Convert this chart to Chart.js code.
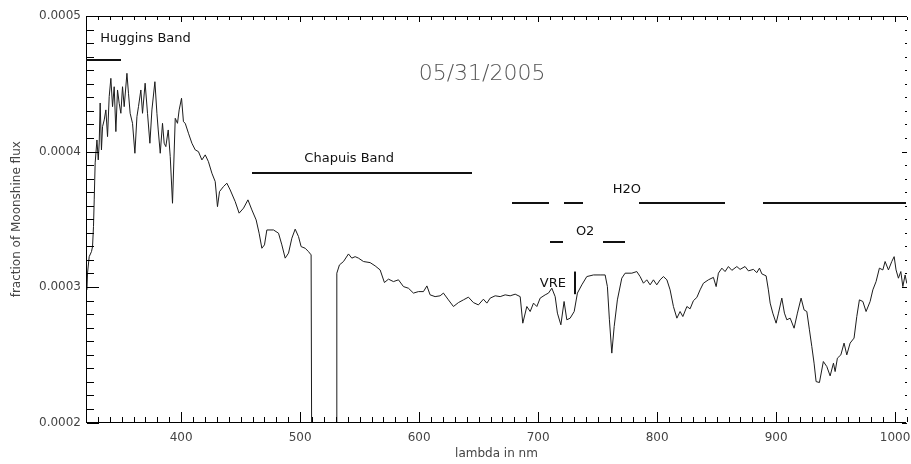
<!DOCTYPE html>
<html>
<head>
<meta charset="utf-8">
<script src="https://cdn.jsdelivr.net/npm/chart.js@4.4.0/dist/chart.umd.min.js"></script>
<style>
  html, body { margin: 0; padding: 0; background: #fff; overflow: hidden; }
  canvas { display: block; }
</style>
</head>
<body>
<canvas id="chart" width="911" height="464"></canvas>
<script>
// spectrum, wavelength in nm, flux in units of 1e-4
const wavelength = [
  320.8, 321.3, 322.7, 324.6, 325.5, 326.3, 326.9, 327.7, 329.2, 330.3,
  331.1, 331.9, 333.0, 333.9, 335.3, 336.7, 338.1, 339.5, 340.9, 342.3,
  343.7, 345.1, 346.5, 347.9, 349.3, 350.7, 352.1, 354.4, 355.7, 357.1,
  359.1, 361.1, 362.8, 364.1, 366.1, 367.5, 369.7, 371.7, 373.7, 375.4,
  377.9, 379.6, 380.7, 382.4, 384.3, 385.7, 387.1, 389.1, 390.8, 392.7,
  395.0, 396.9, 398.3, 400.3, 401.9, 403.4, 406.1, 409.0, 411.8, 414.5,
  417.4, 420.2, 422.9, 425.8, 428.6, 430.5, 432.2, 435.5, 438.4, 441.2,
  445.4, 448.7, 452.4, 456.1, 459.4, 463.0, 465.5, 467.8, 470.0, 472.0,
  477.6, 481.8, 484.6, 487.4, 490.2, 493.0, 495.8, 498.6, 500.8, 504.2,
  507.0, 509.2, 510.1, 530.7, 530.8,
  533.0, 536.4, 540.6, 543.4, 546.2, 549.0, 553.2, 558.8, 563.0, 567.2,
  570.8, 574.2, 578.4, 582.6, 586.8, 591.0, 595.2, 599.4, 603.6, 606.5,
  609.2, 613.4, 617.6, 620.4, 624.6, 628.8, 633.0, 637.2, 641.4, 645.6,
  649.8, 654.0, 656.9, 659.7, 663.9, 668.1, 672.3, 676.5, 680.7, 684.9,
  687.1, 690.5, 693.3, 696.1, 698.9, 701.7, 705.9, 708.7, 711.5, 714.3,
  716.2, 719.1, 721.8, 724.1, 726.9, 730.3, 733.0, 736.7, 740.9, 746.5,
  752.1, 756.3, 758.2, 759.9, 761.9, 763.9, 766.6, 770.3, 773.1, 778.7,
  782.9, 785.7, 788.5, 791.3, 794.1, 796.9, 799.7, 802.5, 805.3, 808.2,
  810.9, 813.7, 816.6, 819.3, 821.6, 825.0, 827.7, 830.5, 833.4, 836.1,
  838.9, 843.1, 847.3, 849.6, 851.5, 854.4, 857.1, 859.9, 862.8, 867.0,
  869.7, 873.9, 876.7, 880.9, 883.8, 886.0, 888.0, 891.6, 893.5, 895.0,
  897.2, 900.0, 902.0, 904.8, 907.0, 909.0, 911.8, 915.1, 917.9, 921.0,
  923.5, 925.8, 928.0, 930.0, 931.9, 933.6, 936.4, 939.7, 942.6, 945.4,
  948.2, 949.6, 951.5, 954.4, 957.1, 959.4, 962.2, 965.5, 967.8, 970.0,
  972.9, 975.6, 979.0, 981.3, 984.0, 986.8, 989.7, 991.6, 994.4, 997.2,
  999.2, 1000.8, 1002.8, 1004.8, 1006.5, 1008.4, 1009.8, 1012.0
];
const flux = [
  2.979, 3.104, 3.224, 3.261, 3.298, 3.446, 3.643, 3.916, 4.085, 3.938,
  4.063, 4.358, 4.012, 4.183, 4.233, 4.307, 4.110, 4.405, 4.540, 4.331,
  4.478, 4.147, 4.454, 4.356, 4.282, 4.478, 4.331, 4.577, 4.430, 4.282,
  4.208, 3.987, 4.257, 4.331, 4.454, 4.282, 4.504, 4.282, 4.061, 4.307,
  4.515, 4.282, 4.159, 3.987, 4.208, 4.061, 4.036, 4.159, 3.962, 3.618,
  4.245, 4.208, 4.307, 4.393, 4.220, 4.208, 4.135, 4.061, 4.012, 3.999,
  3.938, 3.975, 3.925, 3.840, 3.778, 3.593, 3.704, 3.741, 3.766, 3.716,
  3.630, 3.545, 3.582, 3.643, 3.569, 3.495, 3.397, 3.286, 3.311, 3.421,
  3.421, 3.397, 3.311, 3.213, 3.250, 3.360, 3.427, 3.372, 3.298, 3.286,
  3.261, 3.237, 0.5, 0.5, 3.102,
  3.163, 3.188, 3.244, 3.213, 3.224, 3.213, 3.188, 3.180, 3.156, 3.126,
  3.033, 3.058, 3.040, 3.053, 3.003, 2.991, 2.955, 2.966, 2.966, 3.008,
  2.942, 2.929, 2.935, 2.955, 2.905, 2.856, 2.885, 2.905, 2.925, 2.885,
  2.868, 2.910, 2.881, 2.918, 2.935, 2.929, 2.942, 2.935, 2.947, 2.929,
  2.733, 2.856, 2.819, 2.881, 2.856, 2.918, 2.942, 2.955, 2.991, 2.929,
  2.807, 2.721, 2.893, 2.758, 2.770, 2.819, 2.955, 3.016, 3.077, 3.089,
  3.089, 3.089, 3.003, 2.758, 2.512, 2.708, 2.905, 3.065, 3.102, 3.102,
  3.114, 3.077, 3.028, 3.053, 3.016, 3.053, 3.016, 3.053, 3.077, 3.053,
  2.979, 2.856, 2.770, 2.819, 2.782, 2.856, 2.839, 2.899, 2.923, 2.979,
  3.028, 3.053, 3.071, 3.003, 3.102, 3.139, 3.114, 3.151, 3.123, 3.151,
  3.130, 3.151, 3.119, 3.130, 3.106, 3.139, 3.097, 3.082, 2.979, 2.881,
  2.807, 2.733, 2.807, 2.918, 2.807, 2.758, 2.770, 2.696, 2.807, 2.918,
  2.831, 2.819, 2.684, 2.561, 2.438, 2.302, 2.295, 2.450, 2.413, 2.344,
  2.438, 2.376, 2.475, 2.499, 2.586, 2.499, 2.586, 2.623, 2.782, 2.905,
  2.893, 2.819, 2.893, 2.979, 3.040, 3.139, 3.126, 3.188, 3.126, 3.188,
  3.224, 3.126, 3.065, 3.114, 3.003, 3.089, 3.028, 3.040
];
const FLUX_UNIT = 1e-4;

const xTicks = [400, 500, 600, 700, 800, 900, 1000];
const yTicks = [0.0002, 0.0003, 0.0004, 0.0005];
const xMinorStep = 10;
const yMinorStep = 0.00001;

// absorption band markers: [from nm, to nm], height in flux
const hugginsBand = [[320, 349]];
const hugginsY = 0.000468;
const chapuisBand = [[459.7, 644.3]];
const chapuisY = 0.000385;
const h2oBands = [[678, 709], [722, 738], [785, 857], [889, 1010]];
const h2oY = 0.000363;
const o2Bands = [[710, 721.3], [754.4, 773.4]];
const o2Y = 0.000334;
const vreX = 730.3;
const vreRange = [0.0002947, 0.0003114];

// text labels: [text, nm, flux, align]
const bandLabels = [
  ["Huggins Band", 331.9, 0.0004835, "left"],
  ["Chapuis Band", 541.2, 0.000395, "center"],
  ["H2O", 774.5, 0.0003716, "center"],
  ["O2", 739.5, 0.0003409, "center"],
  ["VRE", 712.4, 0.0003023, "center"]
];
const dateLabel = ["05/31/2005", 652.9, 0.0004572];

const points = wavelength.map((w, i) => ({ x: w, y: flux[i] * FLUX_UNIT }));

// IDL-style box with inward ticks
const axisBox = {
  id: "axisBox",
  afterDraw(chart) {
    const { ctx, chartArea: a } = chart;
    const xs = chart.scales.x, ys = chart.scales.y;
    const L = Math.round(a.left), R = Math.round(a.right) - 1;
    const T = Math.round(a.top), B = Math.round(a.bottom) - 1;
    ctx.save();
    ctx.fillStyle = "#000";
    ctx.fillRect(L, T, R - L, 1);
    ctx.fillRect(L, B, R - L, 1);
    ctx.fillRect(L, T, 1, B - T + 1);
    const nx = Math.round((xs.max - xs.min) / xMinorStep);
    for (let i = 0; i <= nx; i++) {
      const v = xs.min + i * xMinorStep;
      const px = Math.round(xs.getPixelForValue(v));
      const major = Math.round(v) % 100 === 0;
      ctx.fillRect(px, B - (major ? 10 : 5), 1, major ? 10 : 5);
      ctx.fillRect(px, T + 1, 1, major ? 5 : 3);
    }
    const ny = Math.round((ys.max - ys.min) / yMinorStep);
    for (let k = 0; k <= ny; k++) {
      const py = Math.round(ys.getPixelForValue(ys.min + k * yMinorStep));
      const major = k % 10 === 0;
      ctx.fillRect(L + 1, py, major ? 12 : 7, 1);
      ctx.fillRect(R + 1 - (major ? 5 : 2), py, major ? 5 : 2, 1);
    }
    ctx.restore();
  }
};

const annotations = {
  id: "annotations",
  afterDraw(chart) {
    const { ctx, chartArea: a } = chart;
    const xs = chart.scales.x, ys = chart.scales.y;
    const R = Math.round(a.right) - 1;
    ctx.save();
    ctx.fillStyle = "#111";
    const bar = (list, v) => list.forEach(([a0, a1]) => {
      const py = Math.round(ys.getPixelForValue(v));
      const p0 = Math.round(xs.getPixelForValue(a0));
      const p1 = Math.min(Math.round(xs.getPixelForValue(a1)), R);
      ctx.fillRect(p0, py, p1 - p0, 2);
    });
    bar(hugginsBand, hugginsY);
    bar(chapuisBand, chapuisY);
    bar(h2oBands, h2oY);
    bar(o2Bands, o2Y);
    const vx = Math.round(xs.getPixelForValue(vreX));
    const vy0 = ys.getPixelForValue(vreRange[1]), vy1 = ys.getPixelForValue(vreRange[0]);
    ctx.fillRect(vx, vy0, 2, vy1 - vy0);

    ctx.font = "13px 'DejaVu Sans'";
    ctx.textBaseline = "middle";
    bandLabels.forEach(([t, wx, wy, al]) => {
      ctx.textAlign = al;
      ctx.fillText(t, xs.getPixelForValue(wx), ys.getPixelForValue(wy));
    });
    ctx.fillStyle = "#555";
    ctx.font = "200 22px 'DejaVu Sans'";
    ctx.textAlign = "center";
    ctx.fillText(dateLabel[0], xs.getPixelForValue(dateLabel[1]), ys.getPixelForValue(dateLabel[2]));
    ctx.restore();
  }
};

const tickFont = { family: "DejaVu Sans", size: 12 };

new Chart(document.getElementById("chart"), {
  type: "scatter",
  data: {
    datasets: [{
      data: points,
      showLine: true,
      borderColor: "#1c1c1c",
      borderWidth: 1,
      pointRadius: 0,
      tension: 0
    }]
  },
  options: {
    responsive: false,
    animation: false,
    layout: { padding: { left: 6, right: 4, top: 16, bottom: 1 } },
    plugins: { legend: { display: false }, tooltip: { enabled: false } },
    scales: {
      x: {
        type: "linear",
        min: 320,
        max: 1010,
        grid: { display: false, drawTicks: false },
        border: { display: false },
        afterBuildTicks: s => { s.ticks = xTicks.map(v => ({ value: v })); },
        afterFit: s => { s.height = 40.5; s.paddingLeft = 0; s.paddingRight = 0; },
        ticks: { color: "#444", font: tickFont, padding: 8, maxRotation: 0, callback: v => String(v) },
        title: { display: true, text: "lambda in nm", color: "#444", font: tickFont, padding: { top: 2, bottom: 2 } }
      },
      y: {
        type: "linear",
        min: 0.0002,
        max: 0.0005,
        grid: { display: false, drawTicks: false },
        border: { display: false },
        afterBuildTicks: s => { s.ticks = yTicks.map(v => ({ value: v })); },
        afterFit: s => { s.width = 80; s.paddingTop = 0; s.paddingBottom = 0; },
        ticks: { color: "#444", font: tickFont, padding: 5, callback: v => v.toFixed(4) },
        title: { display: true, text: "fraction of Moonshine flux", color: "#444", font: tickFont, padding: { top: 4, bottom: 4 } }
      }
    }
  },
  plugins: [axisBox, annotations]
});
</script>
</body>
</html>
